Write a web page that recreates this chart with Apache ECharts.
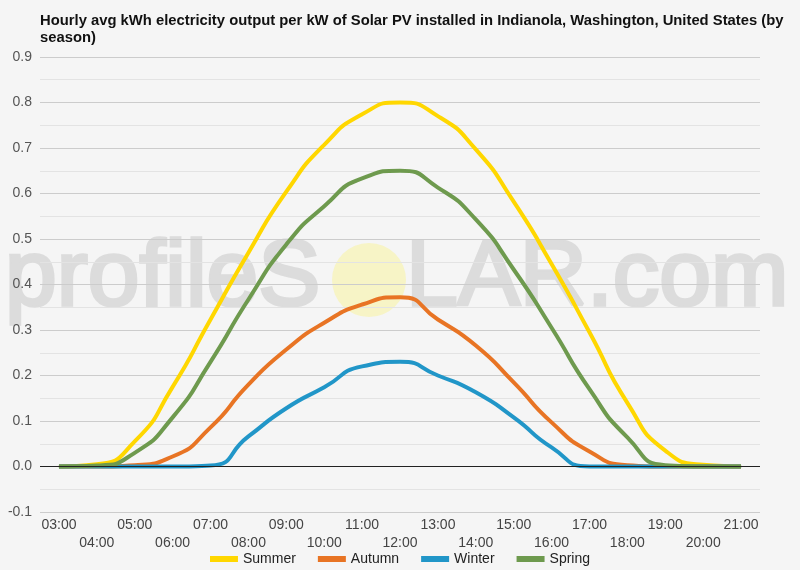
<!DOCTYPE html>
<html>
<head>
<meta charset="utf-8">
<script src="https://cdn.jsdelivr.net/npm/echarts@6/dist/echarts.min.js"></script>
<style>
  html, body { margin: 0; padding: 0; background: #f5f5f5; }
  #chart { width: 800px; height: 570px; }
</style>
</head>
<body>
<div id="chart"></div>
<script>
// hours of the day (category axis)
var hours = ['03:00', '04:00', '05:00', '06:00', '07:00', '08:00', '09:00', '10:00', '11:00', '12:00',
             '13:00', '14:00', '15:00', '16:00', '17:00', '18:00', '19:00', '20:00', '21:00'];

// hourly avg kWh per kW installed, by season
var summer = [0, 0.005, 0.055, 0.175, 0.323, 0.47, 0.604, 0.707, 0.774, 0.8, 0.77, 0.697, 0.582, 0.445, 0.295, 0.14, 0.035, 0.004, 0];
var autumn = [0, 0, 0.003, 0.022, 0.086, 0.18, 0.257, 0.316, 0.356, 0.372, 0.323, 0.266, 0.185, 0.097, 0.033, 0.003, 0, 0, 0];
var winter = [0, 0, 0, 0, 0.002, 0.066, 0.128, 0.174, 0.22, 0.23, 0.2, 0.163, 0.108, 0.042, 0, 0, 0, 0, 0];
var spring = [0, 0.002, 0.03, 0.108, 0.23, 0.367, 0.488, 0.572, 0.633, 0.65, 0.613, 0.543, 0.433, 0.305, 0.17, 0.064, 0.003, 0, 0];

var seasonNames = ['Summer', 'Autumn', 'Winter', 'Spring'];
var seasonData = [summer, autumn, winter, spring];
var colors = ['#FFD700', '#E87424', '#2196C8', '#6E9A4E'];

var font = '"Liberation Sans", Arial, sans-serif';

var chart = echarts.init(document.getElementById('chart'));

var series = seasonData.map(function (d, i) {
  var s = {
    name: seasonNames[i],
    type: 'line',
    data: d,
    smooth: 0.6,
    symbol: 'none',
    lineStyle: { width: 4, color: colors[i] },
    itemStyle: { color: colors[i] },
    z: 3
  };
  // black zero baseline
  if (i === 0) {
    s.markLine = {
      silent: true,
      symbol: 'none',
      label: { show: false },
      lineStyle: { color: '#222', width: 1, type: 'solid' },
      data: [{ yAxis: 0 }]
    };
  }
  return s;
});

// watermark text style (drawn under the grid lines)
var wm = { font: '93px ' + font, fill: '#dcdcdc', stroke: '#dcdcdc', lineWidth: 3.5,
           textAlign: 'left', textVerticalAlign: 'bottom' };

var option = {
  backgroundColor: '#f5f5f5',
  animation: false,
  color: colors,
  title: {
    text: 'Hourly avg kWh electricity output per kW of Solar PV installed in Indianola, Washington, United States (by\nseason)',
    left: 40,
    top: 12.5,
    padding: 0,
    textStyle: { fontFamily: font, fontSize: 14.8, fontWeight: 'bold', color: '#111', lineHeight: 17 }
  },
  graphic: [
    {
      type: 'text',
      z: -1,
      silent: true,
      style: Object.assign({ text: 'profileS', x: 5, y: 326 }, wm)
    },
    {
      type: 'circle',
      z: -1,
      silent: true,
      shape: { cx: 369, cy: 280, r: 37 },
      style: { fill: '#f7f4c6' }
    },
    {
      type: 'text',
      z: -1,
      silent: true,
      style: Object.assign({ text: 'LAR.com', x: 406, y: 326 }, wm)
    }
  ],
  legend: {
    data: seasonNames,
    bottom: -1,
    left: 'center',
    icon: 'rect',
    itemWidth: 28,
    itemHeight: 6,
    itemGap: 22,
    textStyle: { fontFamily: font, fontSize: 14, color: '#222' }
  },
  grid: { left: 40, right: 40, top: 57, bottom: 58 },
  xAxis: {
    type: 'category',
    data: hours,
    boundaryGap: true,
    axisLine: { show: false },
    axisTick: { show: false },
    axisLabel: {
      interval: 0,
      margin: 4,
      fontFamily: font,
      fontSize: 14,
      color: '#444',
      lineHeight: 18,
      formatter: function (v, i) { return i % 2 ? '\n' + v : v; }
    }
  },
  yAxis: {
    type: 'value',
    min: -0.1,
    max: 0.9,
    interval: 0.1,
    axisLine: { show: false },
    axisTick: { show: false },
    axisLabel: {
      margin: 8,
      fontFamily: font,
      fontSize: 14,
      color: '#555',
      formatter: function (v) { return v.toFixed(1); }
    },
    splitLine: { lineStyle: { color: '#cccccc', width: 1 } },
    minorTick: { show: false, splitNumber: 2 },
    minorSplitLine: { show: true, lineStyle: { color: '#e3e3e3', width: 1 } }
  },
  series: series
};

chart.setOption(option);
</script>
</body>
</html>
